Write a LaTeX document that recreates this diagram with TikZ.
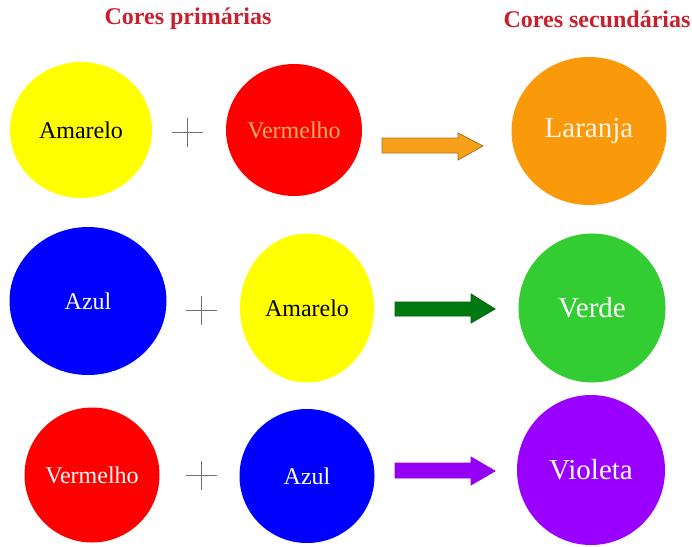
\documentclass[tikz,border=0pt]{standalone}
\usepackage{fontspec}
\setmainfont{Liberation Serif}
\usetikzlibrary{shapes.geometric}
\definecolor{cyellow}{HTML}{FFFF00}
\definecolor{cred}{HTML}{FF0000}
\definecolor{cblue}{HTML}{0000FF}
\definecolor{corange}{HTML}{FA9A0A}
\definecolor{cgreen}{HTML}{33CC33}
\definecolor{cviolet}{HTML}{9900FF}
\definecolor{ctitle}{HTML}{C8202F}
\definecolor{arrOrange}{HTML}{F7A01A}
\definecolor{arrOrangeDk}{HTML}{A87020}
\definecolor{arrGreen}{HTML}{007A10}
\definecolor{arrViolet}{HTML}{9400F5}
\definecolor{vermtxt}{HTML}{F6B060}
\definecolor{plusgray}{HTML}{707070}
\tikzset{
  blob/.style={ellipse, inner sep=0pt, draw=none},
  prim/.style={blob, font=\fontsize{24}{27}\selectfont},
  sec/.style={blob, font=\fontsize{29}{32}\selectfont, text=white},
  title/.style={font=\fontsize{24}{27}\selectfont\bfseries, text=ctitle},
  plusline/.style={draw=plusgray, line width=1pt},
  bigarrow/.style={line width=0.8pt}
}
\begin{document}
\begin{tikzpicture}[x=1pt,y=-1pt]
\useasboundingbox (0,0) rectangle (692,546);
\fill[white] (0,0) rectangle (692,546);
% titles
\node[title] (t1) at (188,19) {Cores primárias};
\node[title] (t2) at (597,19) {Cores secundárias};
% row 1
\node[prim, fill=cyellow, minimum width=142pt, minimum height=136pt] (a1) at (81,130) {Amarelo};
\node[prim, fill=cred, text=vermtxt, minimum width=136pt, minimum height=132pt] (b1) at (294,130) {Vermelho};
\node[sec, fill=corange, minimum width=155pt, minimum height=148pt, text=white!92!orange] (c1) at (589,131) {Laranja};
% row 2
\node[prim, fill=cblue, text=white, minimum width=157pt, minimum height=148pt] (a2) at (88,301) {Azul};
\node[prim, fill=cyellow, minimum width=134pt, minimum height=149pt] (b2) at (307,308) {Amarelo};
\node[sec, fill=cgreen, minimum width=147pt, minimum height=149pt] (c2) at (592,308) {Verde};
% row 3
\node[prim, fill=cred, text=white!92!pink, minimum width=135pt, minimum height=135pt] (a3) at (92,475) {Vermelho};
\node[prim, fill=cblue, text=white, minimum width=135pt, minimum height=134pt] (b3) at (307,476) {Azul};
\node[sec, fill=cviolet, minimum width=148pt, minimum height=150pt] (c3) at (591,470) {Violeta};
% plus signs
\coordinate (p1) at (187,132);
\coordinate (p2) at (201,310);
\coordinate (p3) at (201,475);
\foreach \p in {p1,p2,p3}{
  \draw[plusline] ([xshift=-15.5pt]\p) -- ([xshift=15.5pt]\p);
  \draw[plusline] ([yshift=-14.5pt]\p) -- ([yshift=14.5pt]\p);
}
% arrows
\draw[bigarrow, fill=arrOrange, draw=arrOrangeDk]
  (382,138) -- (458,138) -- (458,133) -- (483,146) -- (458,160) -- (458,153) -- (382,153) -- cycle;
\draw[bigarrow, fill=arrGreen, draw=arrGreen!80!black]
  (395,302) -- (471,302) -- (471,294) -- (495,309) -- (471,323) -- (471,316) -- (395,316) -- cycle;
\draw[bigarrow, fill=arrViolet, draw=arrViolet]
  (395,463) -- (471,463) -- (471,457) -- (495,471) -- (471,485) -- (471,478) -- (395,478) -- cycle;
\end{tikzpicture}
\end{document}
